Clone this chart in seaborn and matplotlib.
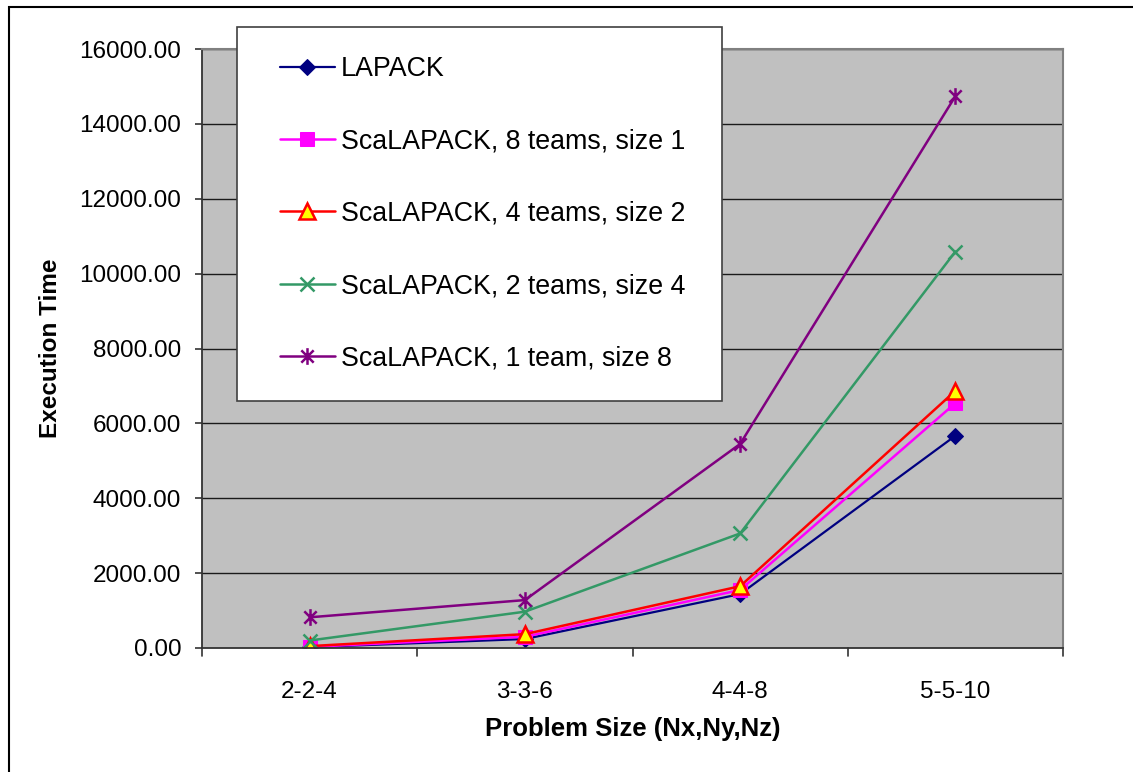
import matplotlib
matplotlib.use("Agg")
import matplotlib.pyplot as plt
import matplotlib.patches as mpatches
from matplotlib.path import Path
import pandas as pd
import seaborn as sns

# Problem sizes and measured execution times
problem_sizes = ["2-2-4", "3-3-6", "4-4-8", "5-5-10"]
lapack = [20, 240, 1440, 5670]
scalapack_8x1 = [30, 300, 1550, 6540]
scalapack_4x2 = [50, 370, 1650, 6870]
scalapack_2x4 = [200, 970, 3060, 10590]
scalapack_1x8 = [820, 1280, 5450, 14740]

series_names = [
    "LAPACK",
    "ScaLAPACK, 8 teams, size 1",
    "ScaLAPACK, 4 teams, size 2",
    "ScaLAPACK, 2 teams, size 4",
    "ScaLAPACK, 1 team, size 8",
]
series_values = [lapack, scalapack_8x1, scalapack_4x2, scalapack_2x4, scalapack_1x8]
y_ticks = [0, 2000, 4000, 6000, 8000, 10000, 12000, 14000, 16000]

df = pd.DataFrame(
    [(name, size, v) for name, vals in zip(series_names, series_values)
     for size, v in zip(problem_sizes, vals)],
    columns=["series", "size", "time"],
)

# Asterisk marker: an "x" with a vertical stroke through it
asterisk = Path(
    [(-1, -1), (1, 1), (-1, 1), (1, -1), (0, -1.35), (0, 1.35)],
    [Path.MOVETO, Path.LINETO, Path.MOVETO, Path.LINETO, Path.MOVETO, Path.LINETO],
)

styles = {
    "LAPACK": dict(color="#000080", marker="D", markersize=8,
                   markerfacecolor="#000080", markeredgecolor="#000080", linewidth=1.6),
    "ScaLAPACK, 8 teams, size 1": dict(color="#FF00FF", marker="s", markersize=10,
                   markerfacecolor="#FF00FF", markeredgecolor="#FF00FF", linewidth=1.8),
    "ScaLAPACK, 4 teams, size 2": dict(color="#FF0000", marker="^", markersize=11,
                   markerfacecolor="#FFFF00", markeredgecolor="#FF0000",
                   markeredgewidth=1.8, linewidth=1.8),
    "ScaLAPACK, 2 teams, size 4": dict(color="#339966", marker="x", markersize=10,
                   markeredgecolor="#339966", markeredgewidth=1.8, linewidth=1.8),
    "ScaLAPACK, 1 team, size 8": dict(color="#800080", marker=asterisk, markersize=12,
                   markeredgecolor="#800080", markeredgewidth=1.8, linewidth=1.8),
}

sns.set_style("white")
plt.rcParams["font.family"] = ["Liberation Sans", "DejaVu Sans"]
plt.rcParams["text.color"] = "black"
plt.rcParams["axes.labelcolor"] = "black"
plt.rcParams["xtick.color"] = "black"
plt.rcParams["ytick.color"] = "black"

W, H = 1133, 772
fig = plt.figure(figsize=(W / 100, H / 100), dpi=100)
fig.patch.set_facecolor("white")

# outer chart frame (runs off the right and bottom edges)
frame = mpatches.Rectangle((9 / W, -0.05), 1.1, 1.05 - 7 / H,
                           transform=fig.transFigure, fill=False,
                           edgecolor="black", linewidth=1.5, clip_on=False)
fig.patches.append(frame)

ax = fig.add_axes([202 / W, 1 - 648 / H, (1063 - 202) / W, (648 - 49) / H])
ax.set_facecolor("#C0C0C0")

for name in series_names:
    sub = df[df["series"] == name]
    sns.lineplot(data=sub, x="size", y="time", ax=ax, label=name, sort=False,
                 **styles[name])

ax.set_xlim(-0.5, 3.5)
ax.set_ylim(0, 16000)
ax.set_yticks(y_ticks)
ax.set_yticklabels([f"{v:.2f}" for v in y_ticks])
ax.set_xticks(range(len(problem_sizes)))
ax.set_xticklabels(problem_sizes)

for v in y_ticks[1:]:
    ax.axhline(v, color="#1a1a1a", linewidth=1.0, zorder=0.5)

for side in ["left", "bottom"]:
    ax.spines[side].set_color("#333333")
    ax.spines[side].set_linewidth(1.3)
for side in ["top", "right"]:
    ax.spines[side].set_color("#808080")
    ax.spines[side].set_linewidth(1.5)

ax.tick_params(axis="y", which="major", length=5, width=1.2, color="#333333",
               direction="out", labelsize=17.5, pad=10, left=True, labelcolor="black")
ax.tick_params(axis="x", which="major", length=0, labelsize=17.5, pad=24,
               labelcolor="black")
# category boundary ticks on the x axis
for b in [-0.5, 0.5, 1.5, 2.5, 3.5]:
    ax.plot([b, b], [0, -0.013], transform=ax.get_xaxis_transform(),
            color="#333333", linewidth=1.2, clip_on=False)

ax.set_xlabel("Problem Size (Nx,Ny,Nz)", fontsize=18.5, fontweight="bold",
              labelpad=10, color="black")
ax.set_ylabel("Execution Time", fontsize=17.5, fontweight="bold",
              labelpad=12, color="black")

# legend box
legend_box = mpatches.Rectangle((237 / W, 1 - 401 / H), (722 - 237) / W, (401 - 27) / H,
                                transform=fig.transFigure, facecolor="white",
                                edgecolor="#404040", linewidth=1.2, zorder=5)
fig.patches.append(legend_box)

leg = ax.legend(loc="upper left", bbox_to_anchor=(280 / W, 1 - 56 / H),
                bbox_transform=fig.transFigure, frameon=False,
                fontsize=19.3, labelspacing=1.73, handlelength=2.05,
                handletextpad=0.22, borderpad=0, borderaxespad=0,
                labelcolor="black")
leg.set_zorder(6)
fig.legends.append(ax.legend_)
ax.legend_ = None

fig.savefig("out.png", dpi=100, facecolor="white")
